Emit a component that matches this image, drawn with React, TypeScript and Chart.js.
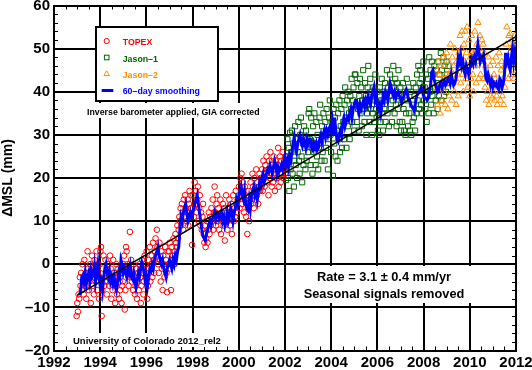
import React, { useEffect, useRef } from 'react';
import { Chart, registerables } from 'chart.js';

Chart.register(...registerables);

// ---- time bases (years) ----
const topexStart = 1992.98;
const jason1Start = 2002.05;
const jason2Start = 2008.55;
const cycleStep = 1 / 36;
const smoothStart = 1993.1;
const smoothStep = 0.05;

// ---- TOPEX (mm) ----
const topexValues = [
  // 1993
  -12, -9, -11, -7, -8, -3, -5, -2, -6, 0, -4, -7, 1, -3, -5, -8, -2, 3, -1, -6, -4, 0, -9, -2, 2, -5, -3, -7, 1, -1, -4, 3, -6, -2, 0, -8,
  // 1994
  -3, 3, 4, -12, -6, -1, 2, -5, -4, 1, -2, -7, -4, 0, -3, -5, 2, -1, -8, -4, -6, 1, -2, -3, -9, -5, 0, -7, -3, -1, -8, -4, -6, -2, -9, -5,
  // 1995
  -4, 0, 2, -10.5, -6, 4, 3, 0, -2, -5, -1, 7.5, -3, 1, -4, -2, -6, 0, -3, -7, -5, -1, -8, -4, -2, -6, 0, -3, -9, -5, 1, -2, -7, -4, 2, 0,
  // 1996
  -2, 3, -8, -5, 1, -1, 4, -4, 0, 2, -3, 5, 1, -2, 3, 6, 2, 8, 4, 0, -2, 5, 1, -4, 3, -1, -6, 2, 0, -3, 4, 1, -2, -6.5, 3, 0,
  // 1997
  3, 5, -1, -6, 4, 1, 2, 6, 0, 3, 7, 5, 4, 9, 6, 8, 11, 10, 13, 9, 14, 12, 8, 15, 11, 16, 13, 10, 12, 15, 9, 14, 17, 11, 13, 16,
  // 1998
  4.5, 13, 16, 11, 19, 14, 17, 12, 15, 18, 10, 13, 16, 9, 12, 8, 11, 14, 7, 5, 9, 4, 6, 10, 5, 8, 12, 7, 11, 9, 13, 10, 15, 8, 12, 18,
  // 1999
  12, 9, 14, 16, 10, 13, 8, 11, 15, 7, 12, 10, 14, 9, 13, 5.5, 11, 16, 10, 8, 13, 12, 15, 9, 11, 14, 7, 12, 16, 10, 13, 11, 17, 14, 12, 15,
  // 2000
  15, 18, 13, 20, 17, 21, 14, 19, 16, 12, 18, 15, 11, 14, 7, 13, 17, 10, 15, 19, 14, 16, 21, 18, 13, 20, 17, 15, 22, 16, 19, 14, 18, 21, 17, 20,
  // 2001
  19, 22, 17, 24, 20, 18, 23, 21, 25, 19, 22, 16, 24, 20, 26, 21, 18, 23, 19, 25, 22, 17, 24, 21, 20, 23, 27, 18, 22, 25, 19, 24, 21, 26, 20, 22,
  // 2002
  24, 21, 25, 23,
];

// ---- Jason-1 (mm) ----
const jason1Values = [
  // 2002
  19.5, 25, 29, 20, 27, 17, 30.5, 22, 26, 31, 21, 28, 18, 24, 32, 23, 29, 20, 26, 33, 24, 21, 30, 34, 25, 19, 28, 23, 32, 27, 22, 31, 24, 29, 26, 35,
  // 2003
  36, 29, 23, 34, 27, 21, 32, 26, 35, 28, 23, 33, 25, 30, 22, 27, 34, 37, 28, 24, 32, 26, 35, 30, 24, 33, 27, 36, 31, 22, 29, 34, 38, 30, 26, 33,
  // 2004
  32, 20.5, 36, 28, 34, 25, 37, 31, 24, 35, 29, 38, 26, 32, 36, 27, 39, 33, 29, 37, 41, 34, 27, 38, 32, 40, 35, 29, 39, 36, 43, 33, 38, 41, 31, 44,
  // 2005
  44, 37, 33, 42, 36, 31, 39, 43, 35, 41, 32, 38, 45, 36, 33, 42, 39, 30, 35, 41, 46, 37, 33, 43, 36, 40, 30, 35, 41, 33, 38, 44, 36, 34, 40, 31,
  // 2006
  35, 30, 41, 33, 38, 43, 35, 31, 40, 36, 42, 33, 38, 45, 35, 41, 32, 39, 44, 36, 42, 33, 38, 46, 41, 35, 43, 37, 32, 42, 36, 45, 39, 33, 41, 31,
  // 2007
  38, 33, 42, 36, 31, 40, 30, 35, 43, 38, 32, 41, 35, 31, 40, 30, 37, 33, 42, 34, 39, 31, 41, 35, 44, 38, 46, 36, 42, 45, 37, 43, 35, 41, 47, 38,
  // 2008
  41, 36, 44, 33, 39, 43, 35, 48, 40, 45, 37, 47, 39, 44, 35, 46, 41, 38, 45, 42, 36, 47, 39, 44, 41, 49, 38, 45, 42, 48, 39, 46, 43, 40, 47, 44,
  // 2009
  42, 46,
];

// ---- Jason-2 (mm) ----
const jason2Values = [
  // 2008.55 - 2009.5
  41, 45, 37, 47, 40, 44, 35, 46, 42, 38, 48, 43, 40, 46, 37, 44, 49, 42, 36, 47, 39, 44, 51, 45, 38, 48, 42, 46, 40, 50, 43, 37, 47, 44, 39, 49,
  // 2009.55 - 2010.5
  46, 53, 42, 50, 54, 44, 40, 51, 47, 54, 43, 49, 55, 41, 46, 52, 39, 48, 43, 53, 49, 44, 40, 49, 54, 46, 42, 51, 47, 56, 43, 50, 53, 44, 48, 52,
  // 2010.55 - 2011.5
  47, 51, 43, 49, 41, 46, 38, 44, 40, 48, 37, 43, 46, 39, 42, 38.5, 47, 40, 44, 38, 43, 48, 39, 37, 46, 41, 49, 40, 38, 45, 47, 39, 43, 37, 46, 41,
  // 2011.55 - 2012
  46, 51, 55, 47, 43, 53, 48, 53.5, 44, 50, 52, 45, 51, 43, 53, 48, 51,
];

// ---- 60-day smoothing (mm), every 0.05 yr from 1993.10 ----
const smoothValues = [
  -7, -6.5, -3, -2.5, -4, -2, -4.5, -3, -2, -4, -1.5, -3, -2.5, -0.5, -4, -2, 0, -3, -5, -4,
  -6, -3, -1, 0, -2, -3, -1.5, -4, -3, -4.5, -3, -5, -6, -4, -2, -3, 1, 0, -2, -1,
  -2, -3, -1, -2, -0.5, -3, -3.5, -2, -4, -5.5, -4, -2, -3, -1, 0.5, -0.5, -2, -4, -3, -5,
  -3, -1, -1.5, 0, -1, 1, 2, 3, 4, 2, 1, 0, 1, -1, -2, -3, -1, 0, 1, 0,
  -1, 1, 0, 2, 1, 3, 4, 8, 11, 10, 12, 13, 14, 12, 10, 11, 12, 11, 12, 13,
  14, 15, 16, 14, 12, 10, 8, 6.5, 6, 5.5, 7, 8, 9, 10, 9, 10.5, 11, 12, 10.5, 12,
  12, 10.5, 11, 12, 10, 11, 9, 10, 12, 10, 11, 13, 12, 10, 12, 13, 15, 14, 16, 17,
  18, 16, 15, 17, 14, 13, 12.5, 15, 13, 16, 17, 18, 16, 17, 15, 17, 19, 18, 20, 21,
  19, 20, 21, 22, 21.5, 23, 22, 21, 22.5, 24, 23, 21, 22.5, 21.5, 22, 23, 22, 24, 25, 23,
  24, 22.5, 25, 24, 26, 28, 29.5, 27, 26, 28, 29, 30, 28.5, 27.5, 29, 28, 27, 29, 28, 29,
  29, 27, 26.5, 28, 27, 28, 26.5, 27, 29, 30, 28.5, 30, 31, 29.5, 31, 30, 31.5, 32, 31, 33,
  30, 34, 31, 29, 28.5, 30, 31, 30, 33, 34, 32, 33, 34, 33.5, 35, 36, 34, 36, 37, 38,
  38, 36, 35, 37, 36, 37, 38, 36.5, 38, 37, 39, 38, 37, 39, 40, 41, 38, 39, 37, 36,
  37, 35, 37, 39, 38, 40, 39.5, 38, 40, 42, 41, 40, 39, 40, 38.5, 39.5, 40, 39, 38.5, 37.5,
  38.5, 39, 40, 40.5, 39.5, 38, 38, 37, 36.5, 36, 35.5, 37.5, 39, 39.5, 40, 40.5, 41, 40, 39, 38.5,
  38.5, 38, 38.5, 40, 41.5, 44.5, 45, 43, 42, 41, 40, 40.5, 41.5, 42, 41, 42, 42.5, 41.5, 42, 43,
  43, 42, 44, 42.5, 41.5, 42, 43, 45, 48, 47, 48.5, 46, 47, 45, 44, 46, 45, 44, 45.5, 46,
  47.5, 46.5, 48, 47, 49, 51, 49, 47, 48, 47.5, 48.5, 46, 43, 42.5, 44, 43, 41.5, 42.5, 41, 42,
  41.5, 42, 41, 40.5, 43, 42.5, 41, 42, 44, 49, 47, 48, 46, 45, 48, 50, 47, 49, 47,
];

// ---- trend line ----
const trendYears = [1993.0, 2012.0];
const trendValues = [-7.2, 52.8];

// ---- axes ----
const xMin = 1992;
const xMax = 2012;
const xMajorStep = 2;
const xMinorStep = 0.5;
const yMin = -20;
const yMax = 60;
const yMajorStep = 10;
const yMinorStep = 2;

const legendLabels = ['TOPEX', 'Jason\u20131', 'Jason\u20132', '60\u2013day smoothing'];
const noteText = 'Inverse barometer applied, GIA corrected';
const rateLines = ['Rate = 3.1 \u00b1 0.4 mm/yr', 'Seasonal signals removed'];
const creditText = 'University of Colorado 2012_rel2';
const yTitle = '\u0394MSL (mm)';

const FONT = '"Liberation Sans", Arial, Helvetica, sans-serif';
const RED = '#ff0000';
const GREEN = '#006400';
const ORANGE = '#ff8c00';
const BLUE = '#0000ff';

function toPoints(start: number, step: number, vals: number[]) {
  return vals.map((v, i) => ({ x: start + i * step, y: v }));
}

const decorPlugin = {
  id: 'decor',
  afterDraw(chart: any) {
    const ctx: CanvasRenderingContext2D = chart.ctx;
    const xs = chart.scales.x;
    const ys = chart.scales.y;
    const a = chart.chartArea;
    ctx.save();
    // minor ticks
    ctx.strokeStyle = '#000';
    ctx.lineWidth = 1;
    const tl = 4;
    for (let v = xMin; v <= xMax + 1e-9; v += xMinorStep) {
      const px = Math.round(xs.getPixelForValue(v)) + 0.5;
      ctx.beginPath();
      ctx.moveTo(px, a.bottom);
      ctx.lineTo(px, a.bottom - tl);
      ctx.moveTo(px, a.top);
      ctx.lineTo(px, a.top + tl);
      ctx.stroke();
    }
    for (let v = yMin; v <= yMax + 1e-9; v += yMinorStep) {
      const py = Math.round(ys.getPixelForValue(v)) + 0.5;
      ctx.beginPath();
      ctx.moveTo(a.left, py);
      ctx.lineTo(a.left + tl, py);
      ctx.moveTo(a.right, py);
      ctx.lineTo(a.right - tl, py);
      ctx.stroke();
    }

    // legend box
    const bx = 96, by = 27, bw = 122, bh = 74;
    ctx.fillStyle = '#fff';
    ctx.fillRect(bx, by, bw, bh);
    ctx.strokeStyle = '#000';
    ctx.lineWidth = 2;
    ctx.strokeRect(bx, by, bw, bh);

    const mx = 106.7;
    const tx = 122.7;
    const rows = [41, 57.5, 74, 90.5];
    const baselines = [45.4, 62, 78, 93.8];
    const colors = [RED, GREEN, ORANGE, BLUE];
    ctx.lineWidth = 1;
    ctx.strokeStyle = RED;
    ctx.beginPath();
    ctx.arc(mx, rows[0], 2.6, 0, Math.PI * 2);
    ctx.stroke();
    ctx.strokeStyle = GREEN;
    ctx.strokeRect(mx - 2.3, rows[1] - 2.3, 4.6, 4.6);
    ctx.strokeStyle = ORANGE;
    ctx.beginPath();
    ctx.moveTo(mx, rows[2] - 3.2);
    ctx.lineTo(mx + 2.8, rows[2] + 1.6);
    ctx.lineTo(mx - 2.8, rows[2] + 1.6);
    ctx.closePath();
    ctx.stroke();
    ctx.strokeStyle = BLUE;
    ctx.lineWidth = 3;
    ctx.beginPath();
    ctx.moveTo(101.7, rows[3]);
    ctx.lineTo(113.3, rows[3]);
    ctx.stroke();

    ctx.font = `bold 8.8px ${FONT}`;
    ctx.textAlign = 'left';
    ctx.textBaseline = 'alphabetic';
    legendLabels.forEach((t, i) => {
      ctx.fillStyle = colors[i];
      ctx.fillText(t, tx, baselines[i]);
    });

    // note under legend
    ctx.font = `bold 8.8px ${FONT}`;
    let w = ctx.measureText(noteText).width;
    ctx.fillStyle = '#fff';
    ctx.fillRect(84, 103, w + 6, 15);
    ctx.fillStyle = '#000';
    ctx.fillText(noteText, 87, 114.8);

    // rate text
    ctx.font = `bold 12.8px ${FONT}`;
    ctx.textAlign = 'center';
    const cx = 384;
    ctx.fillStyle = '#fff';
    ctx.fillRect(297, 266, 176, 37);
    ctx.fillStyle = '#000';
    ctx.fillText(rateLines[0], cx, 281);
    ctx.fillText(rateLines[1], cx, 298.3);

    // credit
    ctx.font = `bold 9.5px ${FONT}`;
    ctx.textAlign = 'left';
    w = ctx.measureText(creditText).width;
    ctx.fillStyle = '#fff';
    ctx.fillRect(70, 333, w + 6, 14);
    ctx.fillStyle = '#000';
    ctx.fillText(creditText, 73, 344);

    ctx.restore();
  },
};

export default function App() {
  const ref = useRef<HTMLCanvasElement>(null);

  useEffect(() => {
    const canvas = ref.current;
    if (!canvas) return;
    const tickFont = { family: FONT, size: 15, weight: 'bold' as const };
    const chart = new Chart(canvas, {
      type: 'scatter',
      data: {
        datasets: [
          {
            label: 'Trend',
            data: trendYears.map((x, i) => ({ x, y: trendValues[i] })),
            showLine: true,
            borderColor: '#000',
            borderWidth: 1.5,
            pointRadius: 0,
            order: 0,
          },
          {
            label: '60-day smoothing',
            data: toPoints(smoothStart, smoothStep, smoothValues),
            showLine: true,
            borderColor: BLUE,
            borderWidth: 3,
            pointRadius: 0,
            tension: 0,
            order: 1,
          },
          {
            label: 'Jason-2',
            data: toPoints(jason2Start, cycleStep, jason2Values),
            pointStyle: 'triangle',
            pointRadius: 3.6,
            borderColor: ORANGE,
            backgroundColor: 'rgba(0,0,0,0)',
            borderWidth: 1,
            order: 2,
          },
          {
            label: 'Jason-1',
            data: toPoints(jason1Start, cycleStep, jason1Values),
            pointStyle: 'rect',
            pointRadius: 3.6,
            borderColor: GREEN,
            backgroundColor: 'rgba(0,0,0,0)',
            borderWidth: 1,
            order: 3,
          },
          {
            label: 'TOPEX',
            data: toPoints(topexStart, cycleStep, topexValues),
            pointStyle: 'circle',
            pointRadius: 2.8,
            borderColor: RED,
            backgroundColor: 'rgba(0,0,0,0)',
            borderWidth: 1,
            order: 4,
          },
        ],
      },
      options: {
        animation: false,
        responsive: false,
        devicePixelRatio: 1,
        layout: { padding: { top: 5.5, right: 16, left: 0, bottom: 0 } },
        plugins: {
          legend: { display: false },
          tooltip: { enabled: false },
        },
        scales: {
          x: {
            type: 'linear',
            min: xMin,
            max: xMax,
            ticks: {
              stepSize: xMajorStep,
              autoSkip: false,
              maxRotation: 0,
              color: '#000',
              font: tickFont,
              padding: 3,
              callback: (v: any) => String(v),
            },
            grid: { color: '#000', lineWidth: 2, drawTicks: false },
            border: { color: '#000', width: 2 },
            afterFit: (s: any) => {
              s.height = 19.5;
              s.paddingLeft = 0;
              s.paddingRight = 0;
            },
          },
          y: {
            type: 'linear',
            min: yMin,
            max: yMax,
            ticks: {
              stepSize: yMajorStep,
              color: '#000',
              font: tickFont,
              padding: 4,
              callback: (v: any) => (v < 0 ? '\u2013' + Math.abs(v) : String(v)),
            },
            title: {
              display: true,
              text: yTitle,
              color: '#000',
              font: { family: FONT, size: 14, weight: 'bold' },
              padding: { top: 0, bottom: 0 },
            },
            grid: { color: '#000', lineWidth: 2, drawTicks: false },
            border: { color: '#000', width: 2 },
            afterFit: (s: any) => {
              s.width = 54;
              s.paddingTop = 0;
              s.paddingBottom = 0;
            },
          },
        },
      },
      plugins: [decorPlugin],
    } as any);
    return () => chart.destroy();
  }, []);

  return (
    <div style={{ position: 'absolute', left: 0, top: 0, width: 532, height: 370, background: '#fff' }}>
      <canvas ref={ref} width={532} height={370} style={{ display: 'block' }} />
    </div>
  );
}
